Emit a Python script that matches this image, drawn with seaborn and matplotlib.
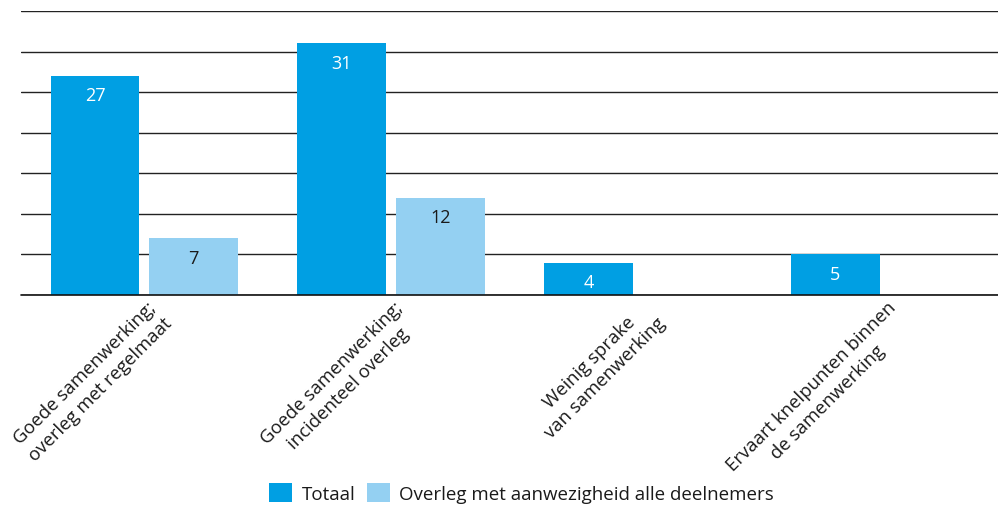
import numpy as np
import pandas as pd
import matplotlib
matplotlib.use("Agg")
import matplotlib.pyplot as plt
from matplotlib.transforms import ScaledTranslation
import seaborn as sns

categories = [
    "Goede samenwerking;\noverleg met regelmaat",
    "Goede samenwerking;\nincidenteel overleg",
    "Weinig sprake\nvan samenwerking",
    "Ervaart knelpunten binnen\nde samenwerking",
]
series_names = ["Totaal", "Overleg met aanwezigheid alle deelnemers"]
totaal = [27, 31, 4, 5]
overleg = [7, 12, np.nan, np.nan]
colors = ["#009FE3", "#94D0F2"]
label_colors = ["white", "#1a1a1a"]
y_ticks = [0, 5, 10, 15, 20, 25, 30, 35]

df = pd.DataFrame({
    "category": categories * 2,
    "series": [series_names[0]] * 4 + [series_names[1]] * 4,
    "value": totaal + overleg,
})

sns.set_theme(style="white")
plt.rcParams["font.family"] = ["Open Sans", "DejaVu Sans"]

fig = plt.figure(figsize=(9.98, 5.06), dpi=100)
ax = fig.add_axes([21 / 998, (506 - 296) / 506, 1 - 21 / 998, (296 - 12) / 506])

sns.barplot(data=df, x="category", y="value", hue="series",
            order=categories, hue_order=series_names,
            palette=colors, saturation=1, width=0.8, gap=0.1,
            errorbar=None, linewidth=0, edgecolor="none", ax=ax)

ax.set_xlim(-0.5, 3.46)
ax.set_ylim(0, 35)
ax.set_yticks(y_ticks)
ax.set_yticklabels([])
ax.set_axisbelow(True)
ax.yaxis.grid(True, color="#222222", linewidth=1.0)
ax.xaxis.grid(False)
ax.axhline(0, color="#111111", linewidth=1.2, clip_on=False, zorder=5)
for s in ax.spines.values():
    s.set_visible(False)
ax.set_xlabel("")
ax.set_ylabel("")
ax.tick_params(axis="both", length=0)
ax.tick_params(axis="x", pad=0)

# value labels
for cont, lc in zip(ax.containers, label_colors):
    for bar in cont:
        h = bar.get_height()
        if h is None or np.isnan(h) or h == 0:
            continue
        ax.annotate(f"{h:g}", (bar.get_x() + bar.get_width() / 2, h),
                    xytext=(0, -14), textcoords="offset points",
                    ha="center", va="center", fontsize=13, color=lc)

# x tick labels
ax.set_xticks(range(len(categories)))
ax.set_xticklabels(categories)
offset = ScaledTranslation(17 / 100, -17 / 100, fig.dpi_scale_trans)
for lab in ax.get_xticklabels():
    lab.set_rotation(45)
    lab.set_rotation_mode("anchor")
    lab.set_ha("right")
    lab.set_va("center")
    lab.set_multialignment("center")
    lab.set_linespacing(1.35)
    lab.set_fontsize(13.3)
    lab.set_color("#1a1a1a")
    lab.set_transform(lab.get_transform() + offset)

handles, labels = ax.get_legend_handles_labels()
if ax.get_legend() is not None:
    ax.get_legend().remove()
fig.legend(handles, labels, loc="center", ncol=2, frameon=False,
           bbox_to_anchor=(521.5 / 998, 1 - 494 / 506),
           fontsize=13.5, handlelength=1.25, handleheight=1.2,
           handletextpad=0.5, columnspacing=0.6, borderpad=0,
           labelcolor="#1a1a1a")

fig.savefig("out.png", dpi=100)
